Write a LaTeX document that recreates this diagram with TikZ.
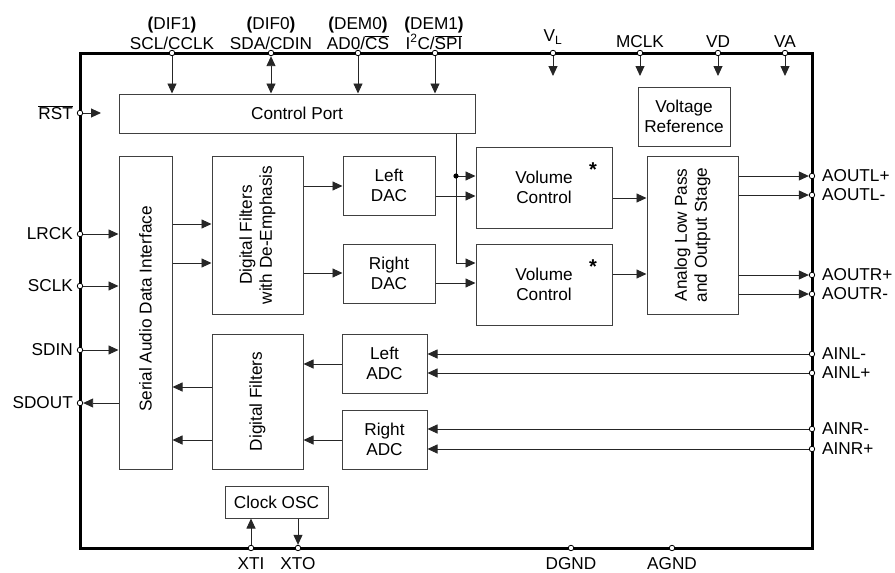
\documentclass[tikz,border=0pt]{standalone}
\usepackage{fontspec}
\setmainfont{Liberation Sans}
\usetikzlibrary{arrows.meta}
\begin{document}
\begin{tikzpicture}[x=1pt,y=-1pt,
  font=\fontsize{17.2}{20}\selectfont,
  blk/.style={draw=black!75, line width=1pt, inner sep=0pt, align=center},
  txt/.style={inner sep=0pt, align=center},
  pinc/.style={circle, draw=black, fill=white, line width=0.8pt, minimum size=5.5pt, inner sep=0pt},
  wire/.style={line width=0.9pt, draw=black!85},
  arr/.style={wire, -{Triangle[length=10pt,width=9pt]}},
  barr/.style={wire, {Triangle[length=10pt,width=9pt]}-{Triangle[length=10pt,width=9pt]}},
]
\useasboundingbox (0,0) rectangle (895,573);

% chip outline
\node[draw, line width=3pt, minimum width=732pt, minimum height=495pt, inner sep=0pt] (chip) at (446,300.5) {};

% blocks
\node[blk, minimum width=356pt, minimum height=39pt] (cport) at (297,113.5) {Control Port};
\node[blk, minimum width=92pt, minimum height=59pt] (vref) at (684,116.5) {Voltage\\Reference};
\node[blk, minimum width=53pt, minimum height=313pt] (sadi) at (145.5,312.5) {};
\node[txt, rotate=90] (sadit) at (145.5,309) {Serial Audio Data Interface};
\node[blk, minimum width=91pt, minimum height=158pt] (dfe) at (257.5,235) {};
\node[txt, rotate=90] (dfet) at (dfe.center) {Digital Filters\\with De-Emphasis};
\node[blk, minimum width=91pt, minimum height=135pt] (dfa) at (257.5,401.5) {};
\node[txt, rotate=90] (dfat) at (dfa.center) {Digital Filters};
\node[blk, minimum width=92pt, minimum height=59pt] (ldac) at (389,185.5) {Left\\DAC};
\node[blk, minimum width=92pt, minimum height=59pt] (rdac) at (389,273.5) {Right\\DAC};
\node[blk, minimum width=136pt, minimum height=81pt] (vcl) at (544,187.5) {Volume\\Control};
\node[blk, minimum width=136pt, minimum height=81pt] (vcr) at (544,284.5) {Volume\\Control};
\node[txt, font=\fontsize{20}{20}\selectfont\bfseries] (starl) at (593,170) {*};
\node[txt, font=\fontsize{20}{20}\selectfont\bfseries] (starr) at (593,267) {*};
\node[blk, minimum width=91pt, minimum height=158pt] (alp) at (692.5,235) {};
\node[txt, rotate=90] (alpt) at (alp.center) {Analog Low Pass\\and Output Stage};
\node[blk, minimum width=85pt, minimum height=59pt] (ladc) at (384.5,363.5) {Left\\ADC};
\node[blk, minimum width=85pt, minimum height=59pt] (radc) at (384.5,439.5) {Right\\ADC};
\node[blk, minimum width=103pt, minimum height=32pt] (clk) at (276.5,502) {Clock OSC};

% pins
\foreach \n/\x in {SCL/172,SDA/271,CS/358,SPI/435,VL/553,MCLK/640,VD/718,VA/785}
  \node[pinc] (p\n) at (\x,53) {};
\foreach \n/\y in {RST/113,LRCK/234,SCLK/286,SDIN/350,SDOUT/403}
  \node[pinc] (p\n) at (80,\y) {};
\foreach \n/\y in {AOLp/176,AOLm/195,AORp/275,AORm/294,AILm/354,AILp/373,AIRm/429,AIRp/449}
  \node[pinc] (p\n) at (812,\y) {};
\foreach \n/\x in {XTI/251,XTO/298,DGND/571,AGND/672}
  \node[pinc] (p\n) at (\x,548) {};

% top pin labels
\node[txt] (lSCL) at (172,33) {\textbf{(}DIF1\textbf{)}\\SCL/CCLK};
\node[txt] (lSDA) at (271,33) {\textbf{(}DIF0\textbf{)}\\SDA/CDIN};
\node[txt] (lCS) at (358,33) {\textbf{(}DEM0\textbf{)}\\AD0/$\overline{\mbox{CS}}$};
\node[txt] (lSPI) at (434,33) {\textbf{(}DEM1\textbf{)}\\I\textsuperscript{2}C/$\overline{\mbox{SPI}}$};
\node[txt] (lVL) at (553,37) {V\textsubscript{L}};
\node[txt] (lMCLK) at (640,42) {MCLK};
\node[txt] (lVD) at (718,42) {VD};
\node[txt] (lVA) at (785,42) {VA};

% left labels
\node[txt, anchor=east] (lRST) at (73,113) {$\overline{\mbox{RST}}$};
\node[txt, anchor=east] (lLRCK) at (73,234) {LRCK};
\node[txt, anchor=east] (lSCLK) at (73,286) {SCLK};
\node[txt, anchor=east] (lSDIN) at (73,350) {SDIN};
\node[txt, anchor=east] (lSDOUT) at (73,403) {SDOUT};

% right labels
\node[txt, anchor=west] (lAOLp) at (822,176) {AOUTL+};
\node[txt, anchor=west] (lAOLm) at (822,195) {AOUTL-};
\node[txt, anchor=west] (lAORp) at (822,275) {AOUTR+};
\node[txt, anchor=west] (lAORm) at (822,294) {AOUTR-};
\node[txt, anchor=west] (lAILm) at (822,354) {AINL-};
\node[txt, anchor=west] (lAILp) at (822,373) {AINL+};
\node[txt, anchor=west] (lAIRm) at (822,429) {AINR-};
\node[txt, anchor=west] (lAIRp) at (822,449) {AINR+};

% bottom labels
\node[txt] (lXTI) at (251,564) {XTI};
\node[txt] (lXTO) at (298,564) {XTO};
\node[txt] (lDGND) at (571,564) {DGND};
\node[txt] (lAGND) at (672,564) {AGND};

% free ends
\coordinate (tRST) at (101,113);
\coordinate (tVL) at (553,76);
\coordinate (tMCLK) at (640,76);
\coordinate (tVD) at (718,76);
\coordinate (tVA) at (785,76);
\coordinate (bus) at (456,176);

% top connectors
\draw[arr] (pSCL.south) -- (pSCL |- cport.north);
\draw[barr] (pSDA.south) -- (pSDA |- cport.north);
\draw[arr] (pCS.south) -- (pCS |- cport.north);
\draw[arr] (pSPI.south) -- (pSPI |- cport.north);
\foreach \n in {VL,MCLK,VD,VA} \draw[arr] (p\n.south) -- (t\n);
\draw[arr] (pRST.east) -- (tRST);

% left pins
\draw[arr] (pLRCK.east) -- (sadi.west |- pLRCK);
\draw[arr] (pSCLK.east) -- (sadi.west |- pSCLK);
\draw[arr] (pSDIN.east) -- (sadi.west |- pSDIN);
\draw[arr] (sadi.west |- pSDOUT) -- (pSDOUT.east);

% internal
\draw[arr] (sadi.east |- 0,224) -- (dfe.west |- 0,224);
\draw[arr] (sadi.east |- 0,263) -- (dfe.west |- 0,263);
\draw[arr] (dfe.east |- 0,186) -- (ldac.west |- 0,186);
\draw[arr] (dfe.east |- 0,273) -- (rdac.west |- 0,273);
\draw[arr] (ldac.east |- 0,196) -- (vcl.west |- 0,196);
\draw[arr] (rdac.east |- 0,283) -- (vcr.west |- 0,283);
\draw[wire] (cport.south -| bus) -- (bus);
\draw[arr] (bus) -- (vcl.west |- bus);
\draw[arr] (bus) -- (bus |- 0,263) -- (vcr.west |- 0,263);
\fill (bus) circle (2.6pt);
\draw[arr] (vcl.east |- 0,198) -- (alp.west |- 0,198);
\draw[arr] (vcr.east |- 0,274) -- (alp.west |- 0,274);
\foreach \n in {AOLp,AOLm,AORp,AORm} \draw[arr] (alp.east |- p\n) -- (p\n.west);
\foreach \n in {AILm,AILp} \draw[arr] (p\n.west) -- (ladc.east |- p\n);
\foreach \n in {AIRm,AIRp} \draw[arr] (p\n.west) -- (radc.east |- p\n);
\draw[arr] (ladc.west |- 0,364) -- (dfa.east |- 0,364);
\draw[arr] (radc.west |- 0,440) -- (dfa.east |- 0,440);
\draw[arr] (dfa.west |- 0,387) -- (sadi.east |- 0,387);
\draw[arr] (dfa.west |- 0,440) -- (sadi.east |- 0,440);

% clock
\draw[arr] (pXTI.north) -- (clk.south -| pXTI);
\draw[arr] (clk.south -| pXTO) -- (pXTO.north);
\end{tikzpicture}
\end{document}
